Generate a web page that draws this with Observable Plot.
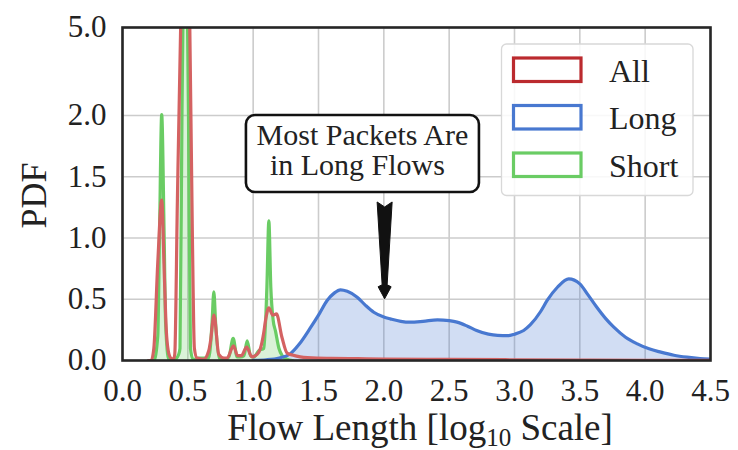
<!DOCTYPE html>
<html>
<head>
<meta charset="utf-8">
<script src="https://cdn.jsdelivr.net/npm/d3@7"></script>
<script src="https://cdn.jsdelivr.net/npm/@observablehq/plot@0.6"></script>
<style>
  html, body { margin: 0; padding: 0; background: #fff; }
  #chart { width: 738px; height: 450px; }
  svg text { font-family: "Liberation Serif", "Times New Roman", serif !important; }
</style>
</head>
<body>
<div id="chart"></div>
<script>
// ---- Data ----
const seriesNames = ["All", "Long", "Short"];
const seriesColors = ["#d46262", "#4878d0", "#6acc64"];
const legendColors = ["#bb2a2e", "#4878d0", "#6acc64"];

const allX = [0.20,0.22,0.24,0.27,0.30,0.32,0.335,0.35,0.37,0.39,0.40,0.42,0.445,0.48,0.515,0.535,0.55,0.57,0.62,0.66,0.674,0.70,0.737,0.776,0.80,0.85,0.88,0.91,0.95,0.99,1.03,1.056,1.08,1.095,1.12,1.15,1.178,1.22,1.26,1.30,1.36,1.49,1.6,1.8,2.0,2.5,3.0,3.5,4.0,4.5];
const allY = [0,0,0.1,0.8,1.31,0.7,0.25,0.08,0.02,0.01,0.05,1.3,5.0,10,5.0,1.0,0.1,0.02,0.01,0.08,0.16,0.37,0.05,0.02,0.02,0.12,0.04,0.04,0.11,0.03,0.05,0.1,0.22,0.33,0.43,0.37,0.38,0.19,0.06,0.045,0.03,0.02,0.018,0.015,0.012,0.009,0.006,0.004,0.002,0.001];

const shortX = [0.20,0.24,0.27,0.283,0.30,0.319,0.33,0.354,0.40,0.43,0.44,0.455,0.462,0.48,0.498,0.505,0.52,0.54,0.584,0.66,0.685,0.699,0.713,0.74,0.788,0.814,0.847,0.877,0.903,0.93,0.954,0.98,1.005,1.043,1.082,1.105,1.12,1.135,1.153,1.171,1.197,1.222,1.26,1.30];
const shortY = [0,0,0.2,1.0,2.03,1.0,0.3,0.01,0.01,0.05,0.1,2.0,5.0,12,5.0,2.0,0.1,0.01,0.02,0.02,0.3,0.56,0.3,0.02,0.01,0.03,0.18,0.03,0.03,0.04,0.16,0.04,0.03,0.08,0.1,0.6,1.14,0.6,0.33,0.24,0.1,0.04,0.01,0];

const longX = [1.0,1.1,1.2,1.285,1.35,1.44,1.5,1.566,1.62,1.668,1.72,1.796,1.86,1.923,2.0,2.05,2.13,2.2,2.3,2.41,2.5,2.56,2.64,2.71,2.8,2.87,2.95,3.0,3.07,3.12,3.2,3.25,3.33,3.415,3.5,3.56,3.63,3.7,3.76,3.85,3.94,4.03,4.12,4.22,4.32,4.42,4.5];
const longY = [0.002,0.006,0.02,0.055,0.13,0.27,0.37,0.49,0.55,0.577,0.565,0.517,0.45,0.394,0.355,0.34,0.32,0.313,0.32,0.332,0.325,0.313,0.28,0.245,0.215,0.205,0.203,0.215,0.245,0.29,0.4,0.49,0.6,0.667,0.626,0.54,0.435,0.34,0.272,0.19,0.136,0.095,0.068,0.043,0.027,0.016,0.011];

const xTicks = [0,0.5,1,1.5,2,2.5,3,3.5,4,4.5];
const yTicks = [0,0.5,1,1.5,2,5];
const yDomain = [0, 2, 5];

const xLabel = ["Flow Length [log", "10", " Scale]"];
const yLabel = "PDF";
const noteLines = ["Most Packets Are", "in Long Flows"];
const noteCenter = [1.84, 1.686];
const arrowX = 2.01, arrowFrom = 1.29, arrowTo = 0.5;

// ---- Build tables ----
const toRows = (xs, ys) => xs.map((x, i) => ({x, y: ys[i]}));
const allRows = toRows(allX, allY);
const shortRows = toRows(shortX, shortY);
const longRows = toRows(longX, longY);

const W = 738, H = 450;
const mL = 122, mR = 28, mT = 27, mB = 90;
const FONT = "Liberation Serif, Times New Roman, serif";

const plot = Plot.plot({
  width: W, height: H,
  marginLeft: mL, marginRight: mR, marginTop: mT, marginBottom: mB,
  style: {fontFamily: FONT, background: "white", color: "#222"},
  x: {domain: [0, 4.5]},
  y: {type: "linear", domain: yDomain, range: [H - mB, 115, mT]},
  marks: [
    Plot.gridX(xTicks, {stroke: "#cccccc", strokeOpacity: 1, strokeWidth: 1.6}),
    Plot.gridY(yTicks, {stroke: "#cccccc", strokeOpacity: 1, strokeWidth: 1.6}),
    Plot.areaY(longRows, {x: "x", y: "y", fill: seriesColors[1], fillOpacity: 0.25, curve: "monotone-x", clip: true}),
    Plot.areaY(shortRows, {x: "x", y: "y", fill: seriesColors[2], fillOpacity: 0.25, curve: "monotone-x", clip: true}),
    Plot.lineY(shortRows, {x: "x", y: "y", stroke: seriesColors[2], strokeWidth: 3.2, curve: "monotone-x", clip: true}),
    Plot.lineY(longRows, {x: "x", y: "y", stroke: seriesColors[1], strokeWidth: 3.2, curve: "monotone-x", clip: true}),
    Plot.lineY(allRows, {x: "x", y: "y", stroke: seriesColors[0], strokeWidth: 3.2, curve: "monotone-x", clip: true}),
    Plot.frame({stroke: "#262626", strokeWidth: 2.6}),
    Plot.axisX({ticks: xTicks, tickFormat: d => d.toFixed(1), tickSize: 0, tickPadding: 18, fontSize: 31, label: null, fill: "#222"}),
    Plot.axisY({ticks: yTicks, tickFormat: d => d.toFixed(1), tickSize: 0, tickPadding: 16, fontSize: 31, label: null, fill: "#222"})
  ]
});

document.getElementById("chart").appendChild(plot);
const svg = d3.select(plot);
const sx = plot.scale("x"), sy = plot.scale("y");
const addText = (sel) => sel.append("text").attr("font-family", FONT).attr("fill", "#222").attr("text-anchor", "start");

// axis labels
const xl = addText(svg)
  .attr("x", (mL + W - mR) / 2 + 4).attr("y", 440)
  .attr("text-anchor", "middle").attr("font-size", 37);
xl.append("tspan").text(xLabel[0]);
xl.append("tspan").attr("font-size", 25).attr("dy", 6).text(xLabel[1]);
xl.append("tspan").attr("dy", -6).text(xLabel[2]);

addText(svg)
  .attr("transform", `translate(46,${(mT + H - mB) / 2 + 2}) rotate(-90)`)
  .attr("text-anchor", "middle").attr("font-size", 36)
  .text(yLabel);

// arrow (wedge)
const ax = sx.apply(arrowX), ay0 = sy.apply(arrowFrom), ay1 = sy.apply(arrowTo);
const headBase = ay1 - 12;
svg.append("path")
  .attr("d", `M${ax-7.5},${ay0} L${ax},${ay0+5} L${ax+7.5},${ay0} L${ax+2.5},${headBase-2} L${ax+6.5},${headBase} L${ax},${ay1} L${ax-6.5},${headBase} L${ax-2.5},${headBase-2} Z`)
  .attr("fill", "#111").attr("stroke", "#111").attr("stroke-width", 1);

// annotation box
const cx = sx.apply(noteCenter[0]), cy = sy.apply(noteCenter[1]);
const bw = 233, bh = 77;
svg.append("rect")
  .attr("x", cx - bw / 2).attr("y", cy - bh / 2).attr("width", bw).attr("height", bh)
  .attr("rx", 9).attr("fill", "white").attr("stroke", "#111").attr("stroke-width", 2.6);
noteLines.forEach((t, i) => {
  addText(svg).attr("x", cx + (i === 0 ? 0 : -5)).attr("y", cy - 8.5 + i * 30)
    .attr("text-anchor", "middle").attr("font-size", 30).text(t);
});

// legend
const lg = svg.append("g");
lg.append("rect").attr("x", 501.5).attr("y", 44).attr("width", 191.5).attr("height", 151.5)
  .attr("rx", 5).attr("fill", "white").attr("fill-opacity", 0.85)
  .attr("stroke", "#d8d8d8").attr("stroke-width", 1.3);
seriesNames.forEach((name, i) => {
  const y0 = 58 + i * 47.5;
  lg.append("rect").attr("x", 513.5).attr("y", y0).attr("width", 67.5).attr("height", 23.5)
    .attr("fill", "white").attr("stroke", legendColors[i]).attr("stroke-width", 3.2);
  addText(lg).attr("x", 609).attr("y", y0 + 23.5)
    .attr("font-size", 32).text(name);
});
</script>
</body>
</html>
